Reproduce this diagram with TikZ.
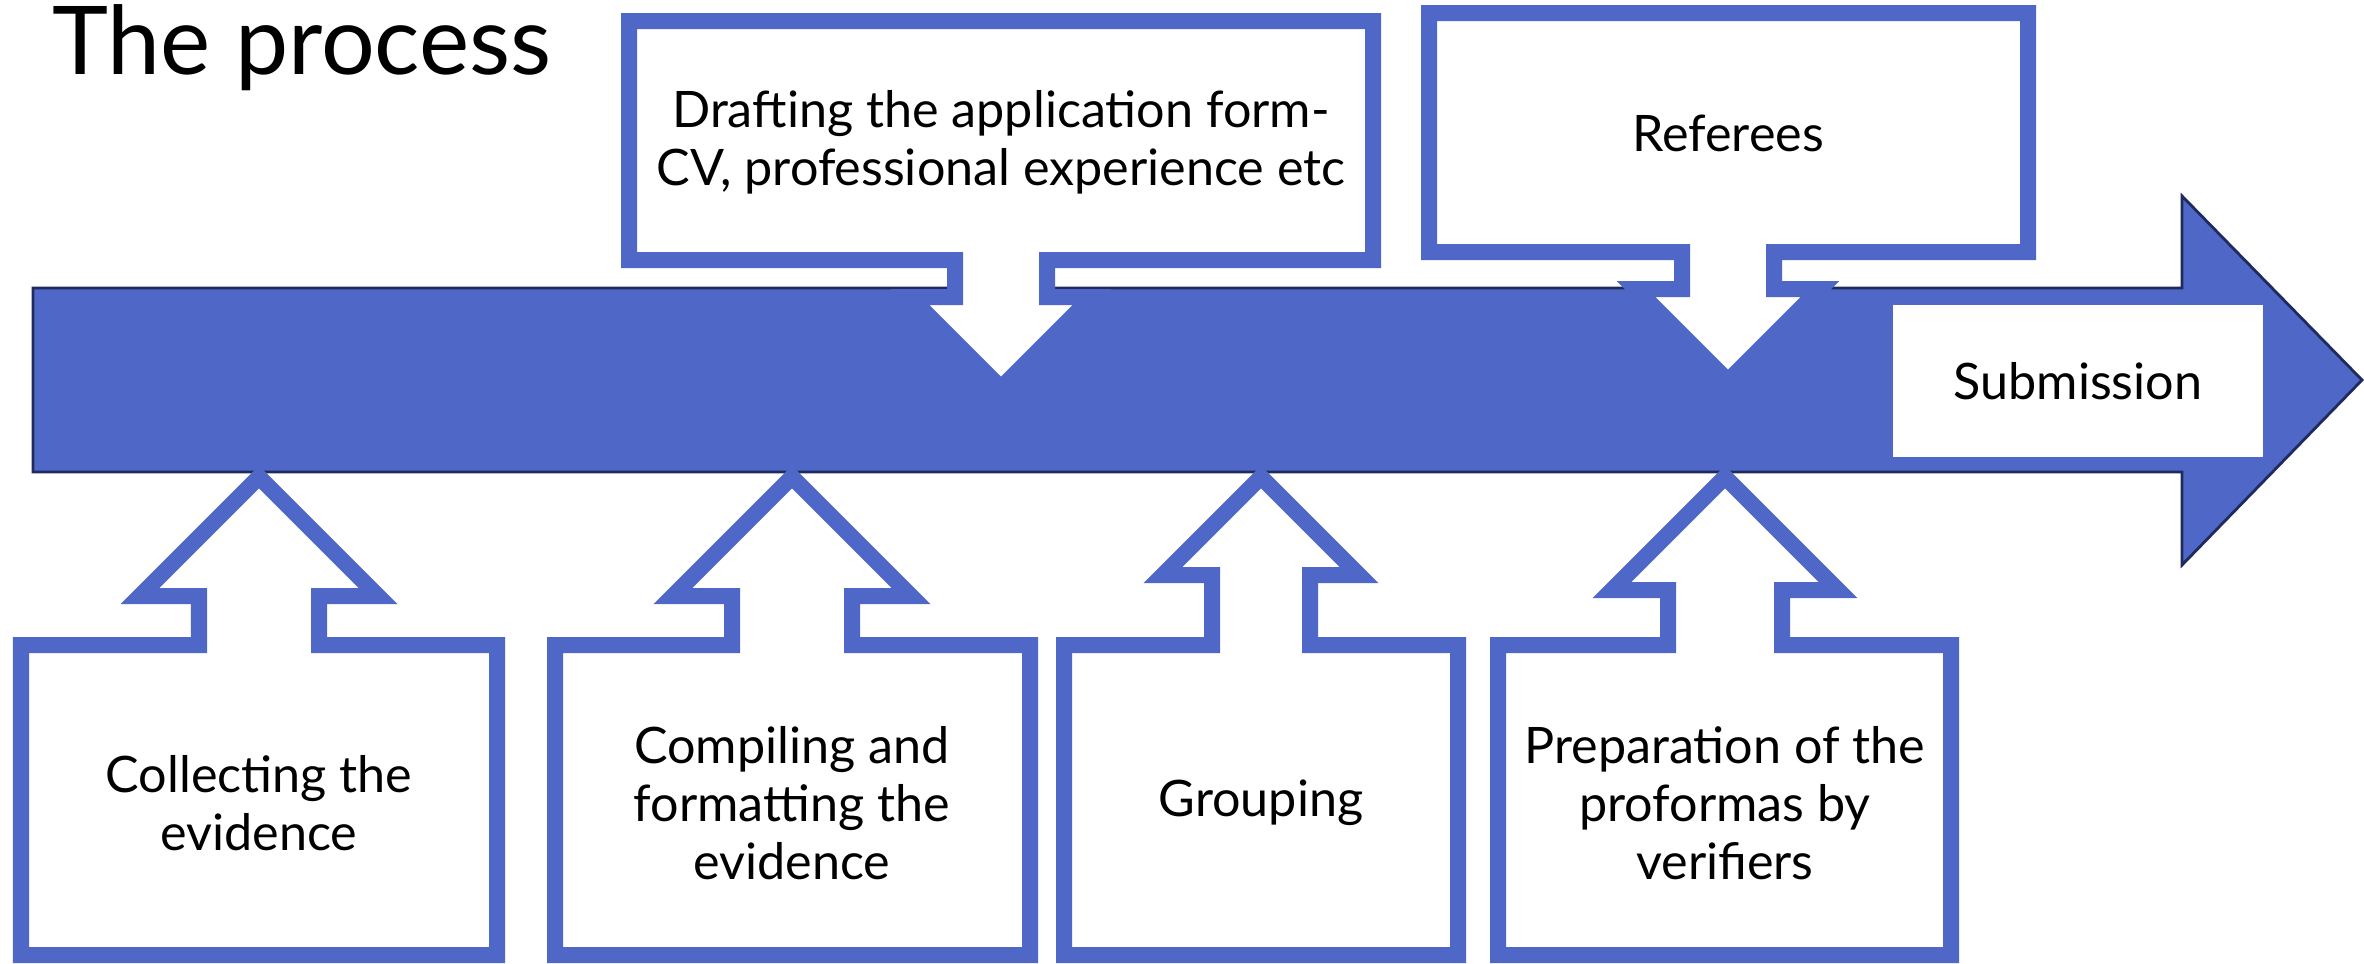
\documentclass[tikz,border=0pt]{standalone}
\usepackage{fontspec}
\setmainfont{Lato}
\definecolor{procblue}{RGB}{79,104,199}
\definecolor{procnavy}{RGB}{31,42,94}

\begin{document}
\begin{tikzpicture}[x=0.01cm,y=-0.01cm,
  callout/.style={draw=procblue,fill=white,line width=0.16cm,miter limit=10},
  steptext/.style={align=center,font=\fontsize{14.3}{16.4}\selectfont}]
\useasboundingbox (0,0) rectangle (2364,963);

% timeline arrow
\draw[fill=procblue,draw=procnavy,line width=0.8pt] (33,288) -- (2182,288) -- (2182,196) -- (2362,380) -- (2182,565) -- (2182,472) -- (33,472) -- cycle;
\fill[white] (1893,305) rectangle (2263,457);

% callouts above
\draw[callout] (629,21) -- (1373,21) -- (1373,260) -- (1047,260) -- (1047,297) -- (1092,297) -- (1001,388) -- (910,297) -- (955,297) -- (955,260) -- (629,260) -- cycle;
\draw[callout] (1429,13) -- (2028,13) -- (2028,252) -- (1774,252) -- (1774,289) -- (1820,289) -- (1728,381) -- (1636,289) -- (1682,289) -- (1682,252) -- (1429,252) -- cycle;

% callouts below
\draw[callout] (21,955) -- (497,955) -- (497,645) -- (319,645) -- (319,596) -- (378,596) -- (259,477) -- (140,596) -- (199,596) -- (199,645) -- (21,645) -- cycle;
\draw[callout] (555,955) -- (1030,955) -- (1030,645) -- (852,645) -- (852,596) -- (911,596) -- (792,477) -- (673,596) -- (732,596) -- (732,645) -- (555,645) -- cycle;
\draw[callout] (1064,955) -- (1458,955) -- (1458,645) -- (1310,645) -- (1310,575) -- (1359,575) -- (1261,477) -- (1163,575) -- (1212,575) -- (1212,645) -- (1064,645) -- cycle;
\draw[callout] (1498,955) -- (1951,955) -- (1951,645) -- (1782,645) -- (1782,590) -- (1838,590) -- (1725,477) -- (1612,590) -- (1668,590) -- (1668,645) -- (1498,645) -- cycle;

\node[anchor=base west,font=\fontsize{27}{32}\selectfont] (title) at (40,74) {The process};

\node[steptext] (drafting) at (1001,142) {Drafting the application form-\\CV, professional experience etc};
\node[steptext] (referees) at (1728,133) {Referees};
\node[steptext] (submission) at (2078,381) {Submission};

\node[steptext] (collecting) at (259,803) {Collecting the\\evidence};
\node[steptext] (compiling) at (792,803) {Compiling and\\formatting the\\evidence};
\node[steptext] (grouping) at (1261,803) {Grouping};
\node[steptext] (preparation) at (1725,803) {Preparation of the\\proformas by\\verifiers};
\end{tikzpicture}
\end{document}
